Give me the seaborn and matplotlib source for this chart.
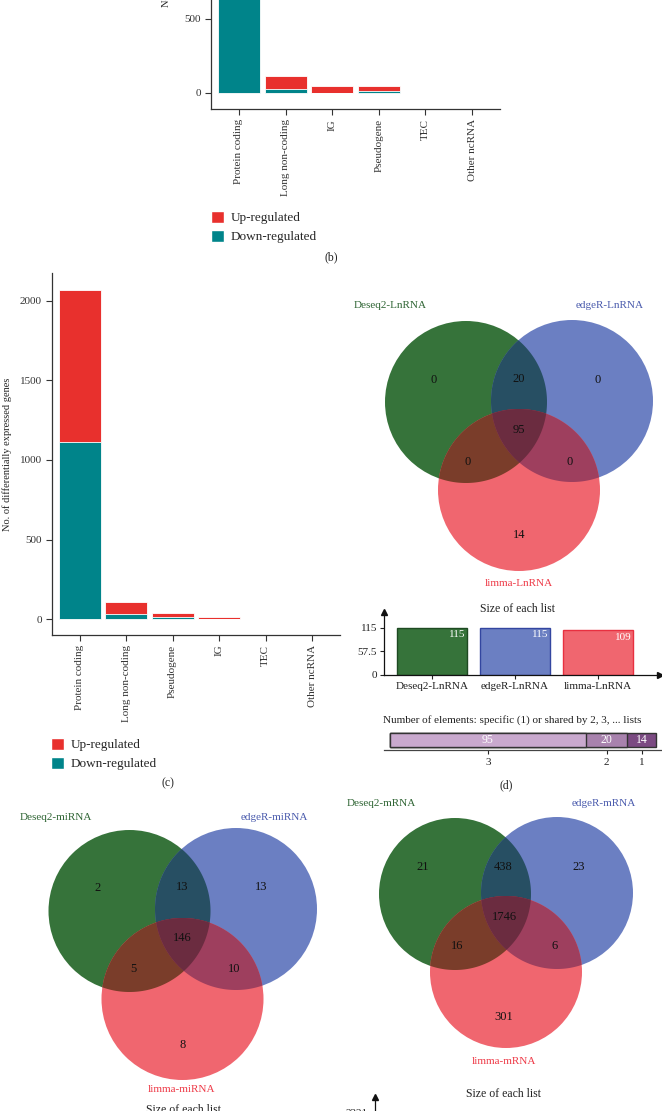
import numpy as np
import pandas as pd
import matplotlib
matplotlib.use('Agg')
import matplotlib.pyplot as plt
import seaborn as sns
from matplotlib.patches import Circle, Polygon, Patch

sns.set_style('ticks')
plt.rcParams['font.family'] = ['Liberation Serif', 'DejaVu Serif']
plt.rcParams['axes.edgecolor'] = '#333333'
plt.rcParams['xtick.color'] = '#333333'
plt.rcParams['ytick.color'] = '#333333'

# ---------------- data ----------------
cats_b = ['Protein coding', 'Long non-coding', 'IG', 'Pseudogene', 'TEC', 'Other ncRNA']
up_b = [700, 88, 49, 32, 1, 2]
down_b = [900, 27, 0, 15, 2, 1]

cats_c = ['Protein coding', 'Long non-coding', 'Pseudogene', 'IG', 'TEC', 'Other ncRNA']
up_c = [955, 74, 26, 10, 1, 2]
down_c = [1112, 33, 12, 0, 2, 1]

legend_labels = ['Up-regulated', 'Down-regulated']

# region counts: only A, only B, only C, AB, AC, BC, ABC
sets_d = ['Deseq2-LnRNA', 'edgeR-LnRNA', 'limma-LnRNA']
counts_d = [0, 0, 14, 20, 0, 0, 95]
sets_e = ['Deseq2-miRNA', 'edgeR-miRNA', 'limma-miRNA']
counts_e = [2, 13, 8, 13, 5, 10, 146]
sets_f = ['Deseq2-mRNA', 'edgeR-mRNA', 'limma-mRNA']
counts_f = [21, 23, 301, 438, 16, 6, 1746]
shared_ticks = ['3', '2', '1']

# ---------------- style ----------------
RED = '#E8302D'
TEAL = '#00848A'
VFILL = ['#36733A', '#6B7FC2', '#F0666F']
VOVER = ['#274F63', '#7A3D2A', '#9E3F5E', '#6B2C40']   # AB, AC, BC, ABC
VTEXT = ['#2F6534', '#4A5BAD', '#EE3B48']
VEDGE = ['#1E4A22', '#3346A0', '#E83040']
PURPLES = ['#C9A9CE', '#A882AD', '#7B4A82']

W, H = 662, 1111
fig = plt.figure(figsize=(W / 100, H / 100), dpi=100)


def px_axes(l, t, r, b):
    ax = fig.add_axes([l / W, 1 - b / H, (r - l) / W, (b - t) / H])
    ax.set_facecolor('none')
    return ax


ov = fig.add_axes([0, 0, 1, 1], zorder=-1)
ov.set_xlim(0, W)
ov.set_ylim(H, 0)
ov.axis('off')


def stacked(ax, cats, up, down, ylim, yticks):
    total = [u + d for u, d in zip(up, down)]
    sns.barplot(x=cats, y=total, color=RED, saturation=1, width=0.9,
                edgecolor='white', linewidth=0.6, ax=ax)
    sns.barplot(x=cats, y=down, color=TEAL, saturation=1, width=0.9,
                edgecolor='white', linewidth=0.6, ax=ax)
    ax.set_xlim(-0.6, 5.6)
    ax.set_ylim(*ylim)
    ax.set_yticks(yticks)
    sns.despine(ax=ax)
    for s in ax.spines.values():
        s.set_linewidth(0.9)
    ax.tick_params(axis='x', rotation=90, length=4, pad=3, labelsize=8)
    ax.tick_params(axis='y', length=4, pad=3, labelsize=8)
    ax.set_ylabel('No. of differentially expressed genes', fontsize=7.5, color='#222222')
    ax.yaxis.set_label_coords(-0.137, 0.5)


def legend_at(x, y):
    fig.legend(handles=[Patch(fc=RED), Patch(fc=TEAL)], labels=legend_labels,
               loc='upper left', bbox_to_anchor=(x / W, 1 - y / H), frameon=False,
               borderaxespad=0, borderpad=0, handlelength=1.0, handleheight=1.0,
               handletextpad=0.5, labelspacing=0.4, fontsize=9.5)


# panel (b)
ax_b = px_axes(211, -248.5, 500, 109.3)
stacked(ax_b, cats_b, up_b, down_b, (-110, 2300), [0, 500, 1000, 1500, 2000])
legend_at(211, 211)
ov.text(331, 257, '(b)', ha='center', va='center', fontsize=8.5, color='#222222')

# panel (c)
ax_c = px_axes(51.7, 273, 340, 635)
stacked(ax_c, cats_c, up_c, down_c, (-100, 2175), [0, 500, 1000, 1500, 2000])
legend_at(51, 738)
ov.text(168, 783, '(c)', ha='center', va='center', fontsize=8.5, color='#222222')


# ---------------- Venn ----------------
def region_poly(centers, r, idx, n=1440):
    pts = []
    th = np.linspace(0, 2 * np.pi, n, endpoint=False)
    for i in idx:
        cx, cy = centers[i]
        px = cx + r * np.cos(th)
        py = cy + r * np.sin(th)
        ok = np.ones(n, bool)
        for j in idx:
            if j != i:
                ok &= (px - centers[j][0]) ** 2 + (py - centers[j][1]) ** 2 <= r * r
        pts.append(np.column_stack([px[ok], py[ok]]))
    P = np.vstack(pts)
    m = P.mean(axis=0)
    order = np.argsort(np.arctan2(P[:, 1] - m[1], P[:, 0] - m[0]))
    return P[order]


def venn(centers, r, names, counts, name_pos, count_pos):
    for c, col in zip(centers, VFILL):
        ov.add_patch(Circle(c, r, fc=col, ec='none', lw=0))
    for idx, col in zip([(0, 1), (0, 2), (1, 2), (0, 1, 2)], VOVER):
        ov.add_patch(Polygon(region_poly(centers, r, idx), closed=True, fc=col, ec='none', lw=0))
    for nm, p, col in zip(names, name_pos, VTEXT):
        ov.text(p[0], p[1], nm, ha='center', va='center', fontsize=8, color=col)
    for v, p in zip(counts, count_pos):
        ov.text(p[0], p[1], str(v), ha='center', va='center', fontsize=9, color='#111111')


def set_sizes(counts):
    a, b, c, ab, ac, bc, abc = counts
    return [a + ab + ac + abc, b + ab + bc + abc, c + ac + bc + abc]


def size_chart(ax, names, counts):
    sizes = set_sizes(counts)
    df = pd.DataFrame({'name': names, 'size': sizes})
    sns.barplot(data=df, x='name', y='size', hue='name', palette=VFILL, saturation=1,
                width=0.845, linewidth=1.0, legend=False, ax=ax)
    for patch, ec in zip(ax.patches, VEDGE):
        patch.set_edgecolor(ec)
    ymax = max(sizes)
    ax.set_ylim(0, ymax * 153 / 115)
    ax.set_xlim(-0.577, 2.744)
    ax.set_yticks([0, ymax / 2, ymax])
    ax.set_yticklabels([f'{v:g}' for v in [0, ymax / 2, ymax]])
    sns.despine(ax=ax)
    for s in ax.spines.values():
        s.set_color('#111111')
        s.set_linewidth(0.9)
    ax.set_xlabel('')
    ax.set_ylabel('')
    ax.tick_params(axis='both', length=3, pad=2, labelsize=8, colors='#222222')
    ax.plot(0, 1, marker='^', color='#111111', ms=5, transform=ax.transAxes, clip_on=False)
    ax.plot(1, 0, marker='>', color='#111111', ms=5, transform=ax.transAxes, clip_on=False)
    for i, s in enumerate(sizes):
        ax.annotate(str(s), (i + 0.845 / 2, s), xytext=(-1.5, -2), textcoords='offset points',
                    ha='right', va='top', color='white', fontsize=8)


def shared_chart(ax, counts, ax_w_px):
    a, b, c, ab, ac, bc, abc = counts
    shared = [abc, ab + ac + bc, a + b + c]
    cum = np.cumsum(shared)
    for val, col in reversed(list(zip(cum, PURPLES))):
        sns.barplot(x=[val], y=['all'], orient='h', color=col, saturation=1, width=0.7,
                    edgecolor='#333333', linewidth=1.0, ax=ax)
    total = cum[-1]
    scale = 266 / total
    ax.set_xlim(-6 / scale, (ax_w_px - 6) / scale)
    ax.set_ylim(0.5, -0.5)
    mids = cum - np.array(shared) / 2
    for v, m in zip(shared, mids):
        ax.text(m, 0, str(v), ha='center', va='center', color='white', fontsize=8.5)
    ax.set_xticks(mids)
    ax.set_xticklabels(shared_ticks)
    ax.set_yticks([])
    ax.set_xlabel('')
    ax.set_ylabel('')
    sns.despine(ax=ax, left=True)
    ax.spines['bottom'].set_color('#444444')
    ax.spines['bottom'].set_linewidth(0.9)
    ax.tick_params(axis='x', length=3, pad=3, labelsize=8, colors='#222222')


# panel (d)
venn([(466, 402), (572, 401), (519, 490)], 81, sets_d, counts_d,
     [(390, 306), (610, 306), (519, 583)],
     [(434, 380), (598, 380), (519, 535), (519, 379), (468, 462), (570, 462), (519, 430)])
ov.text(518, 609, 'Size of each list', ha='center', va='center', fontsize=8.5, color='#222222')
ax_d = px_axes(384, 612, 660, 675)
size_chart(ax_d, sets_d, counts_d)
ov.text(512, 720, 'Number of elements: specific (1) or shared by 2, 3, ... lists',
        ha='center', va='center', fontsize=8, color='#222222')
ax_ds = px_axes(384, 730, 662, 750)
shared_chart(ax_ds, counts_d, 662 - 384)
ov.text(506, 785, '(d)', ha='center', va='center', fontsize=8.5, color='#222222')

# panel (e)
venn([(129.5, 911), (236, 909), (182.5, 999)], 81, sets_e, counts_e,
     [(56, 818), (274, 818), (182, 1089)],
     [(98, 888), (261, 887), (183, 1045), (182, 887), (133, 969), (234, 969), (182, 938)])
ov.text(183, 1110, 'Size of each list', ha='center', va='center', fontsize=8.5, color='#222222')

# panel (f)
venn([(455, 894), (557, 893), (506, 972)], 76, sets_f, counts_f,
     [(381, 804), (604, 804), (504, 1062)],
     [(423, 867), (579, 867), (504, 1017), (503, 867), (457, 946), (555, 946), (504, 917)])
ov.text(504, 1094, 'Size of each list', ha='center', va='center', fontsize=8.5, color='#222222')
ax_f = px_axes(375, 1097, 651, 1160)
size_chart(ax_f, sets_f, counts_f)

fig.savefig('out.png', dpi=100)
